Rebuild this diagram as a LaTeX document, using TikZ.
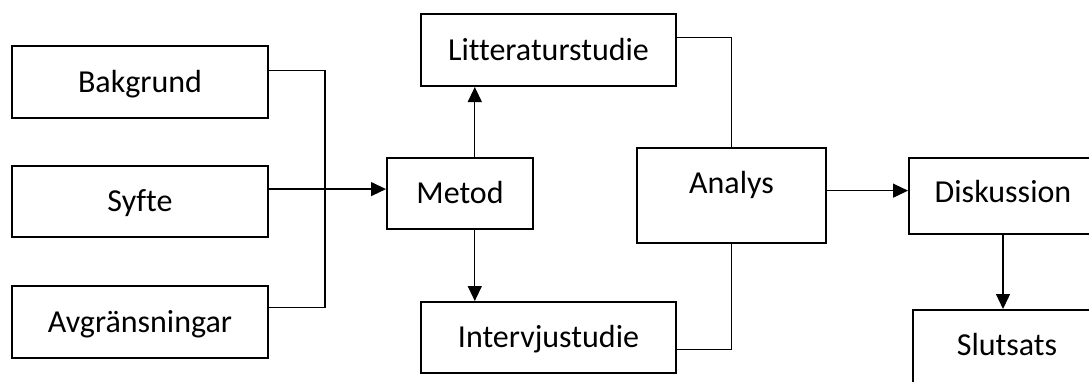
\documentclass[tikz,border=0pt]{standalone}
\usepackage{fontspec}
\setmainfont[Ligatures=NoCommon]{Carlito}
\usetikzlibrary{arrows.meta,calc}
\begin{document}
\begin{tikzpicture}[x=1pt,y=-1pt,
  box/.style={draw=black,line width=2pt,fill=white,inner sep=0pt,
    font=\fontsize{32}{38}\selectfont,text height=20.6pt,text depth=0pt},
  conn/.style={draw=black,line width=1.3pt},
  arr/.style={conn,-{Triangle[length=15pt,width=14pt]}}]
\clip (0,0) rectangle (1089,381);
\fill[white] (0,0) rectangle (1089,381);
\node[box,minimum width=256pt,minimum height=72pt] (bak) at (140,82) {Bakgrund};
\node[box,minimum width=256pt,minimum height=71pt] (sy) at (140,201.5) {Syfte};
\node[box,minimum width=256pt,minimum height=72pt] (avg) at (140,322) {Avgränsningar};
\node[box,minimum width=146pt,minimum height=71pt] (met) at (460,193.5) {Metod};
\node[box,minimum width=255pt,minimum height=72pt] (lit) at (548.5,50) {Litteraturstudie};
\node[box,minimum width=255pt,minimum height=71pt] (int) at (548.5,337.5) {Intervjustudie};
\node[box,minimum width=189pt,minimum height=95pt,text depth=25pt] (ana) at (731.5,195.5) {Analys};
\node[box,minimum width=188pt,minimum height=76pt,text depth=7pt] (dis) at (1003,196) {Diskussion};
\node[box,minimum width=188pt,minimum height=73pt,text depth=3pt] (slu) at (1007,346.5) {Slutsats};
% inputs to Metod
\coordinate (bakp) at ($(bak.north east)!0.347!(bak.south east)$);
\coordinate (avgp) at ($(avg.north east)!0.306!(avg.south east)$);
\coordinate (syp) at ($(sy.north east)!0.33!(sy.south east)$);
\coordinate (jn) at (325,0);
\draw[conn] (bakp) -- (bakp -| jn) -- (avgp -| jn) -- (avgp);
\draw[arr] (syp) -- (syp -| met.west);
% Metod to studies
\coordinate (mtop) at ($(met.north west)!0.6!(met.north east)$);
\coordinate (mbot) at ($(met.south west)!0.6!(met.south east)$);
\draw[arr] (mtop) -- (mtop |- lit.south);
\draw[arr] (mbot) -- (mbot |- int.north);
% studies to Analys
\coordinate (litp) at ($(lit.north east)!0.333!(lit.south east)$);
\coordinate (intp) at ($(int.north east)!0.66!(int.south east)$);
\draw[conn] (litp) -- (litp -| ana.north) -- (ana.north);
\draw[conn] (intp) -- (intp -| ana.south) -- (ana.south);
% Analys to Diskussion
\coordinate (anap) at ($(ana.north east)!0.45!(ana.south east)$);
\draw[arr] (anap) -- (anap -| dis.west);
% Diskussion to Slutsats
\draw[arr] (dis.south) -- (dis.south |- slu.north);
\end{tikzpicture}
\end{document}
